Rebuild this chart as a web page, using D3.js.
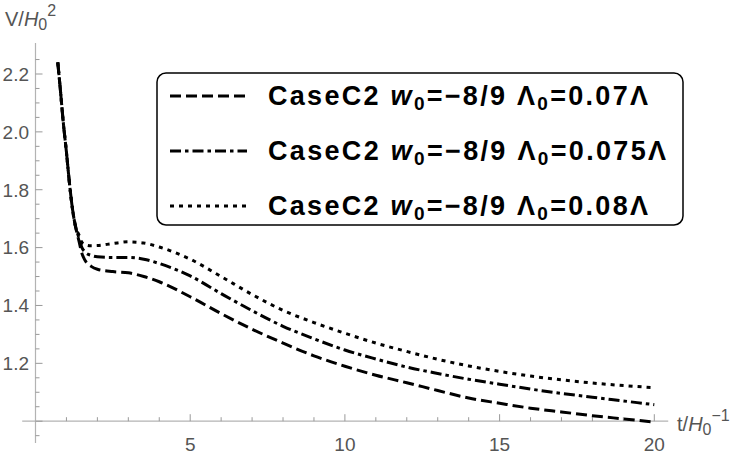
<!DOCTYPE html>
<html>
<head>
<meta charset="utf-8">
<script src="https://cdn.jsdelivr.net/npm/d3@7"></script>
<style>
  body { margin: 0; background: #fff; }
  svg { display: block; }
  .tick-label { font-family: "Liberation Sans", Arial, sans-serif; font-size: 19px; fill: #555; }
  .axis-title { font-family: "Liberation Sans", Arial, sans-serif; font-size: 20px; fill: #555; }
  .legend-text { font-family: "Liberation Sans", Arial, sans-serif; font-size: 27px; font-weight: bold; fill: #000; }
</style>
</head>
<body>
<div id="chart"></div>
<script>
// Data
const times = [0.72, 0.8, 0.9, 1.0, 1.1, 1.2, 1.3, 1.4, 1.5, 1.6, 1.8, 2, 2.5, 3, 3.5, 4, 5, 6, 7, 8, 9, 10, 11, 12, 13, 14, 15, 16, 17, 18, 19, 20];
const v007 = [2.24, 2.15, 2.03, 1.93, 1.82, 1.73, 1.67, 1.625, 1.58, 1.556, 1.535, 1.525, 1.517, 1.513, 1.5, 1.482, 1.43, 1.372, 1.318, 1.27, 1.226, 1.19, 1.159, 1.133, 1.106, 1.08, 1.062, 1.045, 1.032, 1.019, 1.008, 0.997];
const v0075 = [2.24, 2.15, 2.03, 1.93, 1.82, 1.73, 1.67, 1.635, 1.6, 1.585, 1.573, 1.568, 1.566, 1.566, 1.56, 1.545, 1.502, 1.441, 1.382, 1.328, 1.285, 1.246, 1.215, 1.187, 1.165, 1.145, 1.128, 1.111, 1.096, 1.083, 1.07, 1.057];
const v008 = [2.24, 2.15, 2.03, 1.93, 1.82, 1.73, 1.67, 1.645, 1.618, 1.61, 1.606, 1.607, 1.614, 1.62, 1.616, 1.602, 1.56, 1.5, 1.438, 1.383, 1.341, 1.304, 1.27, 1.241, 1.214, 1.191, 1.172, 1.156, 1.143, 1.132, 1.123, 1.116];
const xTicks = [5, 10, 15, 20];
const yTicks = [1.2, 1.4, 1.6, 1.8, 2.0, 2.2];
const legendLambda = ["0.07", "0.075", "0.08"];
const dashStyles = ["11,5", "11,4,3.5,4", "4,5"];

const width = 750, height = 459;

const svg = d3.select("#chart")
    .append("svg")
    .attr("width", width)
    .attr("height", height);

// Scales
const x = d3.scaleLinear().domain([0, 20]).range([35.5, 654.3]);
const y = d3.scaleLinear().domain([1.0, 2.2]).range([421.2, 74]);

const axisColor = "#b3b3b3";

// x axis line and ticks
svg.append("line")
    .attr("x1", x(-0.43)).attr("x2", x(20.45))
    .attr("y1", y(1.0)).attr("y2", y(1.0))
    .attr("stroke", axisColor).attr("stroke-width", 1.2);

svg.selectAll(".xminor")
    .data(d3.range(1, 21))
    .enter().append("line")
    .attr("x1", d => x(d)).attr("x2", d => x(d))
    .attr("y1", y(1.0))
    .attr("y2", d => y(1.0) - (d % 5 === 0 ? 7 : 4))
    .attr("stroke", "#999").attr("stroke-width", 1);

svg.selectAll(".xlabel")
    .data(xTicks)
    .enter().append("text")
    .attr("class", "tick-label")
    .attr("x", d => x(d))
    .attr("y", 451)
    .attr("text-anchor", "middle")
    .text(d => d);

// y axis line and ticks
svg.append("line")
    .attr("x1", x(0)).attr("x2", x(0))
    .attr("y1", y(0.925)).attr("y2", y(2.307))
    .attr("stroke", axisColor).attr("stroke-width", 1.2);

svg.selectAll(".yminor")
    .data(d3.range(19, 46).map(d => d * 0.05))
    .enter().append("line")
    .attr("x1", x(0))
    .attr("x2", d => x(0) + (Math.abs(d * 5 - Math.round(d * 5)) < 1e-6 ? 7 : 4))
    .attr("y1", d => y(d)).attr("y2", d => y(d))
    .attr("stroke", "#999").attr("stroke-width", 1);

svg.selectAll(".ylabel")
    .data(yTicks)
    .enter().append("text")
    .attr("class", "tick-label")
    .attr("x", 29)
    .attr("y", d => y(d))
    .attr("dy", "0.36em")
    .attr("text-anchor", "end")
    .text(d => d.toFixed(1));

// axis titles
const yTitle = svg.append("text")
    .attr("class", "axis-title")
    .attr("x", 5).attr("y", 26);
yTitle.append("tspan").text("V/");
yTitle.append("tspan").attr("font-style", "italic").text("H");
yTitle.append("tspan").attr("font-size", "16px").attr("dy", 4).text("0");
yTitle.append("tspan").attr("font-size", "16px").attr("dy", -14).text("2");

const xTitle = svg.append("text")
    .attr("class", "axis-title")
    .attr("x", 677).attr("y", 431);
xTitle.append("tspan").text("t/");
xTitle.append("tspan").attr("font-style", "italic").text("H");
xTitle.append("tspan").attr("font-size", "16px").attr("dy", 4).text("0");
xTitle.append("tspan").attr("font-size", "16px").attr("dy", -14).text("\u22121");

// curves
const series = [v007, v0075, v008];
const line = d3.line()
    .x(d => x(d[0]))
    .y(d => y(d[1]))
    .curve(d3.curveMonotoneX);

series.forEach(function(vals, i) {
    svg.append("path")
        .datum(times.map((t, j) => [t, vals[j]]))
        .attr("fill", "none")
        .attr("stroke", "#000")
        .attr("stroke-width", 3)
        .attr("stroke-dasharray", dashStyles[i])
        .attr("d", line);
});

// legend
const legend = svg.append("g");
legend.append("rect")
    .attr("x", 157).attr("y", 73)
    .attr("width", 526).attr("height", 152)
    .attr("rx", 9).attr("ry", 9)
    .attr("fill", "#fff")
    .attr("stroke", "#000")
    .attr("stroke-width", 1.5);

legendLambda.forEach(function(lam, i) {
    const cy = 96 + i * 55;
    legend.append("line")
        .attr("x1", 170).attr("x2", 247)
        .attr("y1", cy).attr("y2", cy)
        .attr("stroke", "#000")
        .attr("stroke-width", 3)
        .attr("stroke-dasharray", dashStyles[i]);
    const t = legend.append("text")
        .attr("class", "legend-text")
        .attr("x", 268).attr("y", cy + 9)
        .attr("textLength", lam.length > 4 ? 398 : 380)
        .attr("lengthAdjust", "spacing");
    t.append("tspan").text("CaseC2 ");
    t.append("tspan").attr("font-style", "italic").text("w");
    t.append("tspan").attr("font-size", "19px").attr("dy", 5).text("0");
    t.append("tspan").attr("dy", -5).text("=\u22128/9 \u039B");
    t.append("tspan").attr("font-size", "19px").attr("dy", 5).text("0");
    t.append("tspan").attr("dy", -5).text("=" + lam + "\u039B");
});
</script>
</body>
</html>
